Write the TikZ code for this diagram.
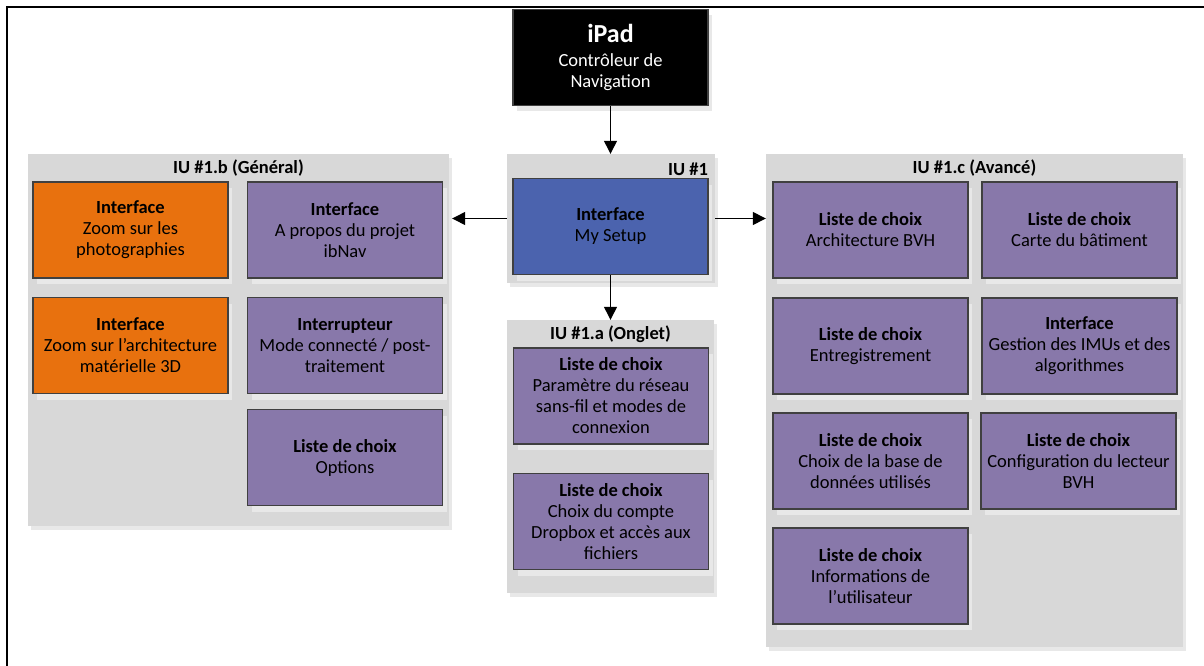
\documentclass[tikz,border=0pt]{standalone}
\usepackage{fontspec}
\setmainfont{Carlito}
\usetikzlibrary{positioning,arrows.meta,shadows}
\definecolor{uiorange}{RGB}{232,113,14}
\definecolor{uipurple}{RGB}{136,120,170}
\definecolor{uiblue}{RGB}{75,99,174}
\definecolor{panelgray}{RGB}{216,216,216}
\definecolor{shadegray}{RGB}{232,232,232}
\definecolor{edgegray}{RGB}{64,64,64}

\begin{document}
\begin{tikzpicture}[x=1pt,y=-1pt,
  panel/.style={rectangle,fill=panelgray,inner sep=0pt,
    drop shadow={shadow xshift=3pt,shadow yshift=-4pt,fill=shadegray,opacity=1}},
  paneltitle/.style={font=\fontsize{18.5}{21}\selectfont\bfseries,inner sep=0pt},
  box/.style={rectangle,draw=edgegray,line width=1.2pt,minimum width=195pt,
    minimum height=96pt,align=center,inner sep=2pt,
    font=\fontsize{18.5}{21}\selectfont,
    drop shadow={shadow xshift=4pt,shadow yshift=-6pt,fill=shadegray,opacity=1}},
  arr/.style={-{Triangle[length=13pt,width=13pt]},line width=1.3pt}
]
\useasboundingbox (0,0) rectangle (1204,666);
\draw[line width=2pt] (7,666) -- (7,7) -- (1204,7);

\node[panel,minimum width=421pt,minimum height=372pt] (general) at (238.5,340) {};
\node[panel,minimum width=208pt,minimum height=129pt] (setupgrp) at (611,218.5) {};
\node[panel,minimum width=207pt,minimum height=273pt] (onglet) at (610.5,456.5) {};
\node[panel,minimum width=417pt,minimum height=493pt] (advanced) at (974.5,400.5) {};

\node[paneltitle] (generaltitle) at ([yshift=-14pt]general.north) {IU \#1.b (Général)};
\node[paneltitle,anchor=east] (setuptitle) at ([xshift=-7pt,yshift=-15pt]setupgrp.north east) {IU \#1};
\node[paneltitle] (ongletitle) at ([yshift=-14pt]onglet.north) {IU \#1.a (Onglet)};
\node[paneltitle] (advancedtitle) at ([yshift=-14pt]advanced.north) {IU \#1.c (Avancé)};

\node[box,fill=black,text=white] (ipad) at (610.5,57.5)
  {{\fontsize{26}{28}\selectfont\bfseries iPad}\\[3pt]Contrôleur de\\Navigation};
\node[box,fill=uiblue] (mysetup) at (610.5,226.5) {\textbf{Interface}\\My Setup};

\node[box,fill=uiorange] (zoomphoto) at (130.5,230) {\textbf{Interface}\\Zoom sur les\\photographies};
\node[box,fill=uipurple] (apropos) at (345,230) {\textbf{Interface}\\A propos du projet\\ibNav};
\node[box,fill=uiorange] (zoomarch) at (130.5,345.5) {\textbf{Interface}\\Zoom sur l’architecture\\matérielle 3D};
\node[box,fill=uipurple] (mode) at (345,345.5) {\textbf{Interrupteur}\\Mode connecté / post-\\traitement};
\node[box,fill=uipurple] (options) at (345,457.5) {\textbf{Liste de choix}\\Options};

\node[box,fill=uipurple] (reseau) at (611,396) {\textbf{Liste de choix}\\Paramètre du réseau\\sans-fil et modes de\\connexion};
\node[box,fill=uipurple] (dropbox) at (611,521.5) {\textbf{Liste de choix}\\Choix du compte\\Dropbox et accès aux\\fichiers};

\node[box,fill=uipurple] (bvh) at (870.5,230) {\textbf{Liste de choix}\\Architecture BVH};
\node[box,fill=uipurple] (carte) at (1079.5,230) {\textbf{Liste de choix}\\Carte du bâtiment};
\node[box,fill=uipurple] (enreg) at (870.5,346) {\textbf{Liste de choix}\\Entregistrement};
\node[box,fill=uipurple] (imus) at (1079.5,346) {\textbf{Interface}\\Gestion des IMUs et des\\algorithmes};
\node[box,fill=uipurple] (base) at (870.5,461) {\textbf{Liste de choix}\\Choix de la base de\\données utilisés};
\node[box,fill=uipurple] (lecteur) at (1078.5,461) {\textbf{Liste de choix}\\Configuration du lecteur\\BVH};
\node[box,fill=uipurple] (infos) at (870.5,576) {\textbf{Liste de choix}\\Informations de\\l’utilisateur};

\draw[arr] (ipad.south) -- (ipad.south |- setupgrp.north);
\draw[arr,shorten >=3pt] (setupgrp.west) -- (setupgrp.west -| general.east);
\draw[arr] (setupgrp.east) -- (setupgrp.east -| advanced.west);
\draw[arr] (mysetup.south) -- (mysetup.south |- onglet.north);
\end{tikzpicture}
\end{document}
